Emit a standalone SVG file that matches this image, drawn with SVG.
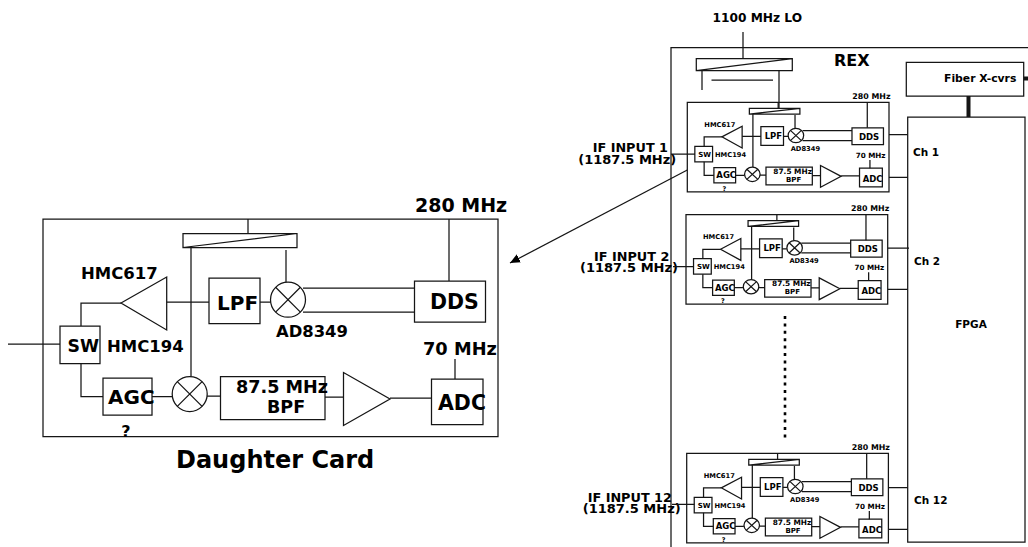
<svg xmlns="http://www.w3.org/2000/svg" xmlns:xlink="http://www.w3.org/1999/xlink" width="1028" height="547" viewBox="0 0 1028 547">
<style>
text{font-family:"DejaVu Sans",sans-serif;font-weight:bold;fill:#000}
.s,.s *,#cardBoxes *,#cardWires *{fill:none;stroke:#151515;stroke-width:1.25;vector-effect:non-scaling-stroke}
.m{text-anchor:middle}
</style>
<defs>
<marker id="arrow" markerUnits="userSpaceOnUse" markerWidth="11" markerHeight="9" refX="10" refY="4.5" orient="auto"><path d="M0 0L10 4.5L0 9Z" fill="#000" stroke="none"/></marker>
<g id="cardBoxes">
<rect x="43" y="219" width="455" height="217.5"/>
<path d="M183 233.5H297V247.5H183ZM183 247.5L297 233.5"/>
<path d="M121 303L166.7 277V330Z"/>
<rect x="209" y="278" width="51" height="45.5"/>
<circle cx="288" cy="299.7" r="17.5"/><path d="M275.6 287.3L300.4 312.1M300.4 287.3L275.6 312.1"/>
<rect x="414.5" y="281" width="71" height="41"/>
<rect x="60" y="326" width="40" height="37.5"/>
<rect x="103" y="378" width="49" height="37"/>
<circle cx="189.7" cy="394" r="17.5"/><path d="M177.3 381.6L202.1 406.4M202.1 381.6L177.3 406.4"/>
<rect x="220.5" y="376.5" width="104.5" height="43"/>
<path d="M343.5 372.5V425.5L390 399Z"/>
<rect x="431.5" y="379" width="51.5" height="45.5"/>
</g>
<g id="cardWires">
<path d="M248 219V233.5M191 247.5V376.5M286 250V282M449 219V281M166.7 302H209M260 302H270.5M121 303H81V326M81 363.5V396.5H103M152 396.5H172M207 396H220.5M325 397H343.5M390 398H431.5M455 379V359M303 288H414.5M303 312H414.5"/>
</g>
<g id="cardLabels">
<text x="17" y="24.7" font-size="6.7">HMC617</text>
<text x="11" y="54.7" font-size="7">SW</text>
<text x="27.7" y="54.7" font-size="6.7">HMC194</text>
<text x="29" y="76.2" font-size="8.5">AGC</text>
<text class="m" x="37" y="88.7" font-size="6.5">?</text>
<text x="77.4" y="36.7" font-size="8.5">LPF</text>
<text x="103.4" y="48.4" font-size="6.7">AD8349</text>
<text x="171.7" y="37.4" font-size="8.5">DDS</text>
<text x="165" y="-3.3" font-size="7.9">280 MHz</text>
<text x="168.4" y="55.7" font-size="7.2">70 MHz</text>
<text x="86" y="71.7" font-size="7.4">87.5 MHz</text>
<text x="98.7" y="79.4" font-size="7">BPF</text>
<text x="175.4" y="79.4" font-size="8.5">ADC</text>
</g>
</defs>

<g id="rex">
<path class="s" d="M671 547V47.5H1028"/>
<text x="834" y="66" font-size="16">REX</text>
</g>
<g id="lo-label"><text x="712.5" y="22" font-size="12.2">1100 MHz LO</text></g>
<g id="lo-splitter">
<path class="s" d="M696.3 58.7H792.3V70.7H696.3ZM696.3 70.7L792.3 58.7"/>
</g>
<g id="fiber">
<rect class="s" x="906.3" y="62.3" width="117.4" height="33.7"/>
<text x="944" y="82" font-size="10.8">Fiber X-cvrs</text>
</g>
<g id="fpga">
<rect class="s" x="907.7" y="117" width="117.3" height="425"/>
<text class="m" x="971" y="328" font-size="10.5">FPGA</text>
<text x="913" y="155.7" font-size="10.5">Ch 1</text>
<text x="914" y="265" font-size="10.5">Ch 2</text>
<text x="914" y="504" font-size="10.5">Ch 12</text>
</g>

<g id="daughter-card-large">
<use xlink:href="#cardBoxes" href="#cardBoxes"/>
<text x="81" y="279" font-size="16.5">HMC617</text>
<text x="67.5" y="352" font-size="17.3">SW</text>
<text x="107" y="352" font-size="16.5">HMC194</text>
<text x="108" y="404" font-size="20">AGC</text>
<text class="m" x="126" y="437" font-size="16">?</text>
<text x="217" y="310" font-size="20">LPF</text>
<text x="276" y="337" font-size="16.4">AD8349</text>
<text x="430" y="309" font-size="20.5">DDS</text>
<text x="415" y="212" font-size="19">280 MHz</text>
<text x="423" y="355" font-size="17.8">70 MHz</text>
<text x="236" y="393" font-size="17.6">87.5 MHz</text>
<text x="267" y="412.7" font-size="17.5">BPF</text>
<text x="438" y="410" font-size="20.5">ADC</text>
<text x="176" y="468" font-size="24">Daughter Card</text>
</g>

<g id="card-1">
<use xlink:href="#cardBoxes" href="#cardBoxes" transform="translate(687.3 102.3) scale(.4433 .4115) translate(-43 -219)"/>
<use xlink:href="#cardLabels" href="#cardLabels" transform="translate(687.3 102.3)"/>
<text x="592.7" y="152.3" font-size="12.8">IF INPUT 1</text>
<text x="578.3" y="164" font-size="13">(1187.5 MHz)</text>
</g>
<g id="card-2">
<use xlink:href="#cardBoxes" href="#cardBoxes" transform="translate(686 214.7) scale(.4433 .4115) translate(-43 -219)"/>
<use xlink:href="#cardLabels" href="#cardLabels" transform="translate(686 214.7)"/>
<text x="594" y="261" font-size="12.8">IF INPUT 2</text>
<text x="580" y="271.5" font-size="13">(1187.5 MHz)</text>
</g>
<g id="card-12">
<use xlink:href="#cardBoxes" href="#cardBoxes" transform="translate(686.7 453.3) scale(.4433 .4115) translate(-43 -219)"/>
<use xlink:href="#cardLabels" href="#cardLabels" transform="translate(686.7 453.3)"/>
<text x="587.7" y="501.7" font-size="12.8">IF INPUT 12</text>
<text x="582.7" y="512.7" font-size="13">(1187.5 MHz)</text>
</g>

<g id="connectors" class="s">
<use xlink:href="#cardWires" href="#cardWires"/>
<use xlink:href="#cardWires" href="#cardWires" transform="translate(687.3 102.3) scale(.4433 .4115) translate(-43 -219)"/>
<use xlink:href="#cardWires" href="#cardWires" transform="translate(686 214.7) scale(.4433 .4115) translate(-43 -219)"/>
<use xlink:href="#cardWires" href="#cardWires" transform="translate(686.7 453.3) scale(.4433 .4115) translate(-43 -219)"/>
<path d="M8 344H60"/>
<path d="M671 154H695M673 266.7H693.7M672 504.3H694.4"/>
<path d="M743 32V58.7M702 70.7V90M711.5 80H773M779 70.7V108"/>
<path d="M889 134.7H907.7M889 177.3H907.7M888 248H909M888 289.3H907.7M888.3 487.7H907.7M888.3 529.3H907.7"/>
<path d="M687.3 170L510 263" marker-end="url(#arrow)"/>
<path d="M968.5 96V117M1023.7 78.5H1028" style="stroke-width:4"/>
<path d="M785 316V441" style="stroke:#000;stroke-width:2.6;stroke-dasharray:3 4.4"/>
</g>
</svg>
